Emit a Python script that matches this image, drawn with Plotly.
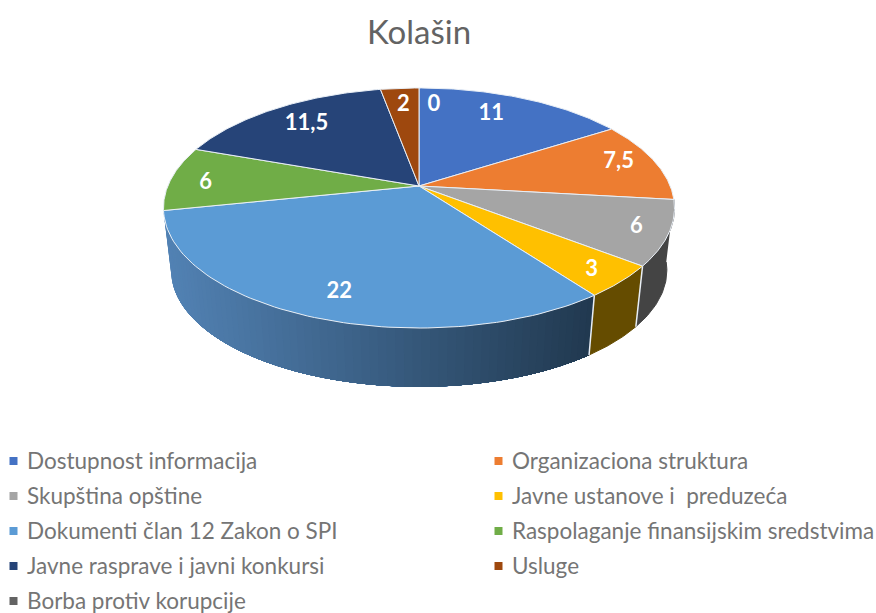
import numpy as np
import plotly.graph_objects as go

# --- data -----------------------------------------------------------------
title = "Kolašin"
categories = ["Dostupnost informacija", "Organizaciona struktura", "Skupština opštine",
              "Javne ustanove i  preduzeća", "Dokumenti član 12 Zakon o SPI",
              "Raspolaganje finansijskim sredstvima", "Javne rasprave i javni konkursi",
              "Usluge", "Borba protiv korupcije"]
values = [11, 7.5, 6, 3, 22, 6, 11.5, 2, 0]
value_labels = ["11", "7,5", "6", "3", "22", "6", "11,5", "2", "0"]

# --- style / layout -------------------------------------------------------
colors = ["#4472c4", "#ed7d31", "#a5a5a5", "#ffc000", "#5b9bd5", "#70ad47", "#264478", "#9e480e", "#636363"]
wall_colors = {2: "#444444", 3: "#654c00"}     # flat side walls
GRAD_IDX = 4                                   # the big slice has a gradient wall
GRAD_L, GRAD_R = (82, 130, 180), (33, 57, 80)
EDGE = "#e9eff6"
FONT = "Lato, Carlito, Calibri, sans-serif"
W, H = 876, 613
CX, CY = 419, 186          # apex of the pie in pixels
PX_X, PX_Y = 251.2, 116.0  # pixels per disc unit
K = 0.1833                 # perspective strength
S = 0.97                   # bottom disc scale
DEPTH = 63 / PX_Y          # pie thickness in disc units
LABEL_R = 0.84
label_nudge_px = [(-17, 4), (1, -2), (10, 2), (7, 6), (8, 0), (-5, 4), (10, 5), (1, 4), (15, 4)]
ROW_PX, COL_PX = 35, 485
LEG_X, LEG_Y, LEG_GAP, LEG_TEXT_DY = 13.5, 461, 13.5, 2


def project(theta, r=1.0):
    """Perspective view of a polar point on the pie disc; theta clockwise from 12 o'clock."""
    u, v = r * np.sin(theta), r * np.cos(theta)
    w = 1 + K * v
    return u / w, v / w


def wall(t):
    x, y = project(t)
    return np.concatenate([x, S * x[::-1]]), np.concatenate([y, S * y[::-1] - DEPTH])


def lerp(a, b, f):
    return "rgb(%d,%d,%d)" % tuple(round(a[i] + (b[i] - a[i]) * f) for i in range(3))


total = sum(values)
edges = np.cumsum([0] + values) / total * 2 * np.pi
fig = go.Figure()

# side walls, then top faces
xl, xr = project(np.radians(259))[0], project(np.radians(145))[0]
for i in (2, 3, GRAD_IDX):
    a, b = edges[i], edges[i + 1]
    if i == GRAD_IDX:
        # painted from the right edge to the left, each band overlapping the rest: no seams
        steps = np.linspace(b, a, 71)
        for t0 in steps[:-1]:
            xm = project(t0)[0]
            f = float(np.clip((xm - xl) / (xr - xl), 0, 1))
            c = lerp(GRAD_L, GRAD_R, f)
            x, y = wall(np.linspace(a, t0, 80))
            fig.add_trace(go.Scatter(x=x, y=y, fill="toself", fillcolor=c, mode="none",
                                     hoverinfo="skip", showlegend=False))
    else:
        x, y = wall(np.linspace(a, b, 40))
        fig.add_trace(go.Scatter(x=x, y=y, fill="toself", fillcolor=wall_colors[i], mode="lines",
                                 line=dict(color=wall_colors[i], width=1), hoverinfo="skip", showlegend=False))

for t in (edges[3], edges[4]):
    x, y = project(np.array([t]))
    fig.add_trace(go.Scatter(x=[x[0], S * x[0]], y=[y[0], S * y[0] - DEPTH], mode="lines",
                             line=dict(color=EDGE, width=1.5), hoverinfo="skip", showlegend=False))

for i, v in enumerate(values):
    if v == 0:
        continue
    x, y = project(np.linspace(edges[i], edges[i + 1], 80))
    fig.add_trace(go.Scatter(x=np.r_[0, x, 0], y=np.r_[0, y, 0], fill="toself", fillcolor=colors[i],
                             mode="lines", line=dict(color=EDGE, width=1),
                             name=categories[i], hoverinfo="name", showlegend=False))

# value labels
mids = (edges[:-1] + edges[1:]) / 2
lx, ly = project(mids, LABEL_R)
lx = lx + np.array([n[0] for n in label_nudge_px]) / PX_X
ly = ly - np.array([n[1] for n in label_nudge_px]) / PX_Y
fig.add_trace(go.Scatter(x=lx, y=ly, mode="text", text=value_labels, textposition="middle center",
                         textfont=dict(family=FONT, size=22, color="white", weight="bold"),
                         hoverinfo="skip", showlegend=False))

# legend, two columns filled row by row
cols = [i % 2 for i in range(len(categories))]
rows = [i // 2 for i in range(len(categories))]
fig.add_trace(go.Scatter(x=cols, y=rows, mode="markers", xaxis="x2", yaxis="y2",
                         marker=dict(symbol="square", size=8, color=colors, line=dict(width=0)),
                         hoverinfo="skip", showlegend=False))
fig.add_trace(go.Scatter(x=np.array(cols) + LEG_GAP / COL_PX, y=np.array(rows) + LEG_TEXT_DY / ROW_PX,
                         mode="text", xaxis="x2", yaxis="y2",
                         text=categories, textposition="middle right",
                         textfont=dict(family=FONT, size=22.5, color="#757575"),
                         hoverinfo="skip", showlegend=False, cliponaxis=False))

hidden = dict(visible=False, fixedrange=True)
fig.update_layout(
    width=W, height=H, autosize=False, margin=dict(l=0, r=0, t=0, b=0),
    paper_bgcolor="white", plot_bgcolor="white",
    title=dict(text=title, x=CX / W, xanchor="center", y=1 - 32 / H, yanchor="middle",
               font=dict(family=FONT, size=33, color="#636363")),
    xaxis=dict(range=[-CX / PX_X, (W - CX) / PX_X], domain=[0, 1], **hidden),
    yaxis=dict(range=[-(H - CY) / PX_Y, CY / PX_Y], domain=[0, 1], **hidden),
    xaxis2=dict(range=[-LEG_X / COL_PX, (W - LEG_X) / COL_PX], overlaying="x", anchor="y2", **hidden),
    yaxis2=dict(range=[(H - LEG_Y) / ROW_PX, -LEG_Y / ROW_PX], overlaying="y", anchor="x2", **hidden),
)
fig.write_html("out.html", config=dict(displayModeBar=False),
               post_script="document.body.style.margin='0';document.documentElement.style.overflow='hidden';")
